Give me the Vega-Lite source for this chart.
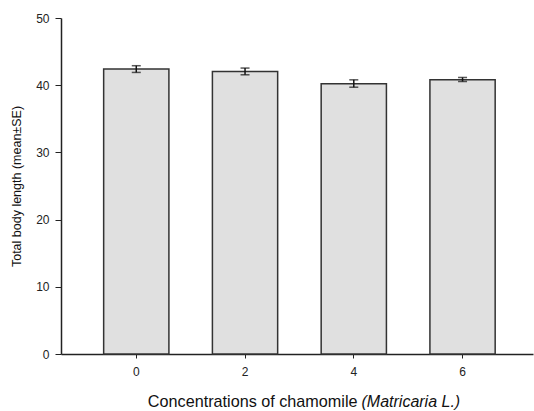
{
  "$schema": "https://vega.github.io/schema/vega-lite/v6.json",
  "autosize": "none",
  "width": 472,
  "height": 336,
  "padding": {"left": 61, "top": 18, "right": 1, "bottom": 57},
  "background": "white",
  "config": {
    "view": {"stroke": null},
    "font": "Liberation Sans",
    "axis": {"domainColor": "#222", "tickColor": "#222", "labelColor": "#222", "titleColor": "#111", "grid": false, "titleFontWeight": "normal", "labelFont": "Liberation Sans", "titleFont": "Liberation Sans"}
  },
  "data": {
    "values": [
      {"conc": "0", "mean": 42.4, "lo": 41.9, "hi": 42.9},
      {"conc": "2", "mean": 42.05, "lo": 41.55, "hi": 42.55},
      {"conc": "4", "mean": 40.2, "lo": 39.7, "hi": 40.8},
      {"conc": "6", "mean": 40.8, "lo": 40.55, "hi": 41.15}
    ]
  },
  "resolve": {"axis": {"x": "independent"}},
  "layer": [
    {
      "mark": {"type": "bar", "fill": "#e0e0e0", "stroke": "#333", "strokeWidth": 1.5},
      "encoding": {
        "x": {
          "field": "conc", "type": "ordinal", "sort": null,
          "scale": {"paddingInner": 0.4, "paddingOuter": 0.37, "align": 0.53},
          "axis": {"labelAngle": 0, "labelFontSize": 12, "labelPadding": 8, "tickSize": 4, "domainWidth": 1.5, "title": "Concentrations of chamomile", "titleFontSize": 16.2, "titleX": 296, "titleY": 52, "titleAlign": "right", "titleBaseline": "alphabetic"}
        },
        "y": {"field": "mean", "type": "quantitative", "scale": {"domain": [0, 50], "nice": false},
          "axis": {"values": [0, 10, 20, 30, 40, 50], "tickSize": 6, "labelFontSize": 12, "labelPadding": 6, "domainWidth": 1.5, "title": "Total body length (mean±SE)", "titleFontSize": 12.5, "titlePadding": 12}}
      }
    },
    {
      "mark": {"type": "rule", "color": "#111", "strokeWidth": 1.5},
      "encoding": {
        "x": {"field": "conc", "type": "ordinal", "sort": null, "axis": null},
        "y": {"field": "lo", "type": "quantitative"}, "y2": {"field": "hi"}}
    },
    {
      "mark": {"type": "tick", "color": "#111", "size": 9, "thickness": 1.5, "orient": "horizontal"},
      "encoding": {
        "x": {"field": "conc", "type": "ordinal", "sort": null, "axis": null},
        "y": {"field": "lo", "type": "quantitative"}}
    },
    {
      "mark": {"type": "tick", "color": "#111", "size": 9, "thickness": 1.5, "orient": "horizontal"},
      "encoding": {
        "x": {"field": "conc", "type": "ordinal", "sort": null,
          "axis": {"orient": "top", "domain": false, "ticks": false, "labels": false, "title": "(Matricaria L.)", "titleFontStyle": "italic", "titleFontSize": 16, "titleX": 300, "titleY": 388, "titleAlign": "left", "titleBaseline": "alphabetic"}},
        "y": {"field": "hi", "type": "quantitative"}}
    }
  ]
}
